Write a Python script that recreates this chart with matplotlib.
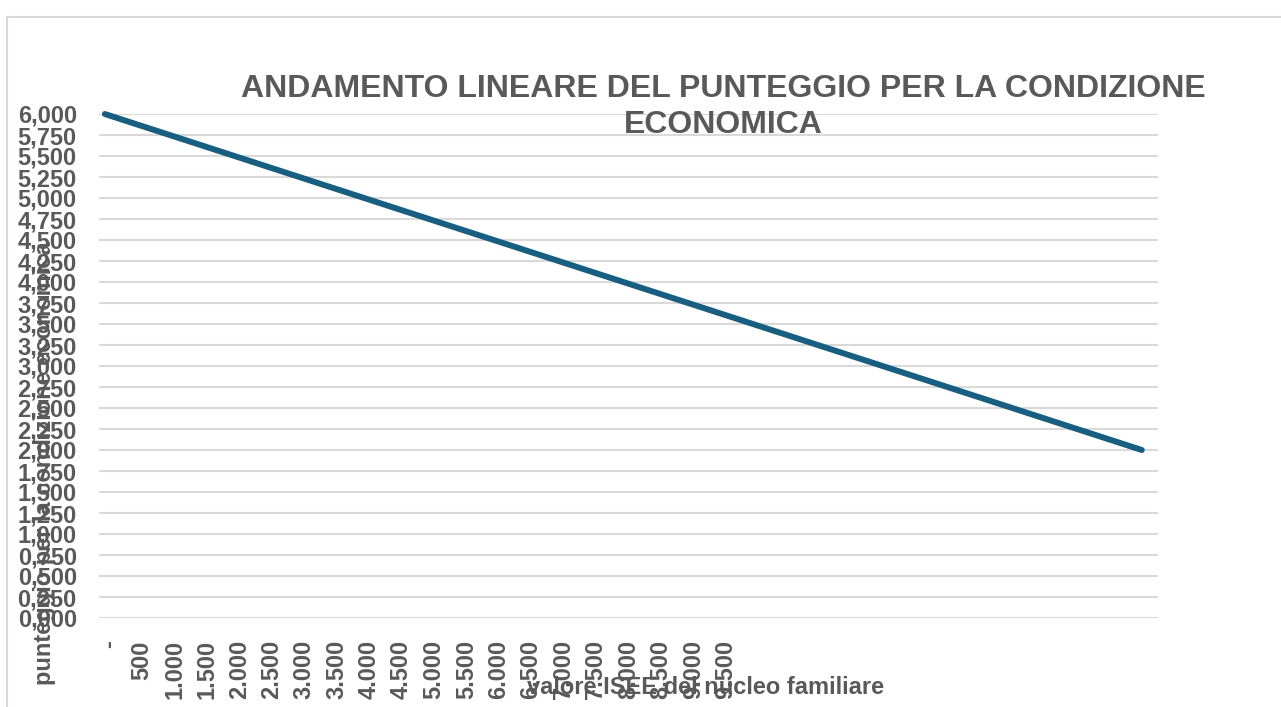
import matplotlib.pyplot as plt
import matplotlib.transforms as mtransforms
from matplotlib.patches import Rectangle

# dati
isee = [0, 16000]          # valore ISEE del nucleo familiare
punteggio = [6.0, 2.0]      # punteggio condizione economica

y_ticks = [0.25 * i for i in range(25)]
y_labels = ["%d,%03d" % (int(v), round((v % 1) * 1000)) for v in y_ticks]
x_ticks = list(range(0, 10000, 500))
x_labels = ["-"] + ["{:,}".format(v).replace(",", ".") for v in x_ticks[1:]]

titolo = "ANDAMENTO LINEARE DEL PUNTEGGIO PER LA CONDIZIONE\nECONOMICA"
label_x = "valore ISEE del nucleo familiare"
label_y = "punteggio per la condizione economica"

GRIGIO = "#595959"
W, H = 1281, 707

plt.rcParams['font.family'] = ['Liberation Sans', 'DejaVu Sans']
fig = plt.figure(figsize=(W / 100, H / 100), dpi=100)

# bordo dell'area del grafico
fig.add_artist(Rectangle((7 / W, -0.1), 1.2, 1.1 - 17 / H, transform=fig.transFigure,
                         fill=False, edgecolor="#D9D9D9", linewidth=1.5))

ax = fig.add_axes([99 / W, 1 - 618 / H, (1158 - 99) / W, (618 - 114) / H])
ax.plot(isee, punteggio, color="#175E80", linewidth=4.3, solid_capstyle="round",
        clip_on=False, zorder=3)

ax.set_xlim(-90, 16250)
ax.set_ylim(0, 6)
ax.set_yticks(y_ticks)
ax.set_yticklabels(y_labels)
ax.set_xticks(x_ticks)
ax.set_xticklabels(x_labels, rotation=90)
ax.tick_params(axis="both", length=0, colors=GRIGIO, labelsize=17)
ax.tick_params(axis="y", pad=16)
ax.tick_params(axis="x", pad=16)
sposta = mtransforms.ScaledTranslation(5 / 100, 0, fig.dpi_scale_trans)
for t in ax.get_xticklabels():
    t.set_fontweight("bold")
    t.set_transform(t.get_transform() + sposta)
for t in ax.get_yticklabels():
    t.set_fontweight("bold")

ax.grid(axis="y", color="#D9D9D9", linewidth=1.5)
ax.set_axisbelow(True)
for s in ax.spines.values():
    s.set_visible(False)

fig.text(723 / W, 1 - 107 / H, titolo, ha="center", va="center", fontsize=23,
         fontweight="bold", color=GRIGIO, linespacing=1.3)
fig.text(706 / W, 1 - 687 / H, label_x, ha="center", va="center", fontsize=17,
         fontweight="bold", color=GRIGIO)
fig.text(45 / W, 1 - 685 / H, label_y, ha="center", va="bottom", rotation=90,
         fontsize=17, fontweight="bold", color=GRIGIO)

fig.savefig("out.png", dpi=100)
